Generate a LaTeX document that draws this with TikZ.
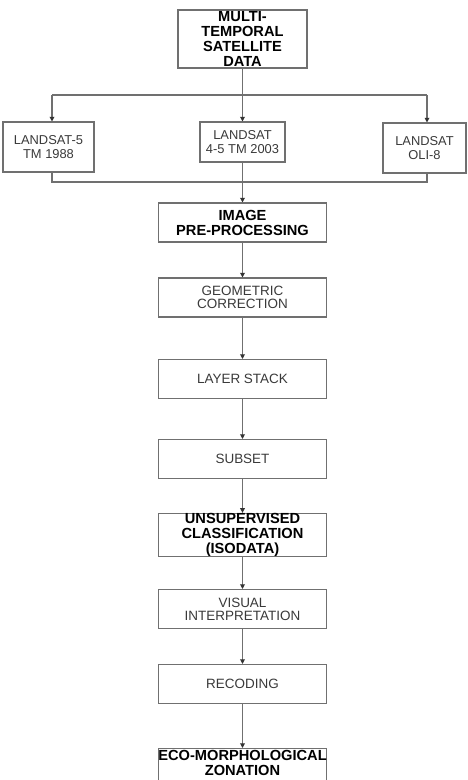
\documentclass[tikz,border=0pt]{standalone}
\usepackage{fontspec}
\setmainfont{Liberation Sans}
\usetikzlibrary{arrows.meta}
\definecolor{linegray}{HTML}{707070}
\definecolor{textgray}{HTML}{3A3A3A}

\begin{document}
\begin{tikzpicture}[
    x=0.03cm, y=-0.03cm,
    box/.style={rectangle, draw=linegray, line width=0.9pt, fill=white, inner sep=0pt, align=center},
    plain box/.style={box, minimum width=5.04cm, minimum height=1.17cm, text=textgray, font=\fontsize{11.5}{11.2}\selectfont},
    bold box/.style={box, minimum width=5.04cm, minimum height=1.17cm, font=\fontsize{12.5}{12.8}\selectfont\bfseries},
    sat box/.style={box, text=textgray, font=\fontsize{11}{11.3}\selectfont},
    link/.style={draw=linegray, line width=0.9pt},
    >={Triangle[width=4pt,length=4pt,color=black!80]}
]
\useasboundingbox (0,0) rectangle (467,780);
\clip (0,0) rectangle (467,780);

% Source data
\node[bold box, minimum width=3.87cm, minimum height=1.74cm, text depth=0pt] (data) at (242.5,39) {MULTI-\\TEMPORAL\\SATELLITE\\DATA};

% Satellite scenes
\node[sat box, minimum width=2.73cm, minimum height=1.5cm] (tm88) at (48.5,147) {LANDSAT-5\\TM 1988};
\node[sat box, minimum width=2.55cm, minimum height=1.2cm] (tm03) at (242.5,142) {LANDSAT\\4-5 TM 2003};
\node[sat box, minimum width=2.49cm, minimum height=1.5cm] (oli) at (424.5,148) {LANDSAT\\OLI-8};

\coordinate (split) at (242.5,95);
\coordinate (splitL) at (52,95);
\coordinate (splitR) at (427,95);
\coordinate (mergeL) at (52,182);
\coordinate (mergeR) at (427,182);

% Split and merge lines
\draw[link] (data) -- (split);
\draw[link] (splitL) -- (splitR);
\draw[link,->] (splitL) -- (splitL |- tm88.north);
\draw[link,->] (split) -- (tm03);
\draw[link,->] (splitR) -- (splitR |- oli.north);
\draw[link] (mergeL |- tm88.south) -- (mergeL) -- (mergeR) -- (mergeR |- oli.south);

% Processing chain
\node[bold box] (pre) at (242.5,222.5) {IMAGE\\PRE-PROCESSING};
\foreach \name/\ypos/\txt in {geo/297.5/{GEOMETRIC\\CORRECTION}, stack/379/{LAYER STACK}, subset/459/{SUBSET}, visual/609/{VISUAL\\INTERPRETATION}, recode/684/{RECODING}} {
    \node[plain box] (\name) at (242.5,\ypos) {\txt};
}
\node[bold box] (unsup) at (242.5,535) {UNSUPERVISED\\CLASSIFICATION\\(ISODATA)};

% Final output
\node[box, minimum width=5.04cm, minimum height=1.5cm, anchor=north] (eco) at (242.5,748) {};
\node[anchor=north, inner sep=0pt, align=center, font=\fontsize{12.5}{12.8}\selectfont\bfseries, yshift=-0.06cm] (ecotext) at (eco.north) {ECO-MORPHOLOGICAL\\ZONATION};

% Connections
\foreach \a/\b in {tm03/pre, pre/geo, geo/stack, stack/subset, subset/unsup, unsup/visual, visual/recode, recode/eco} {
    \draw[link,->] (\a) -- (\b);
}

\end{tikzpicture}
\end{document}
